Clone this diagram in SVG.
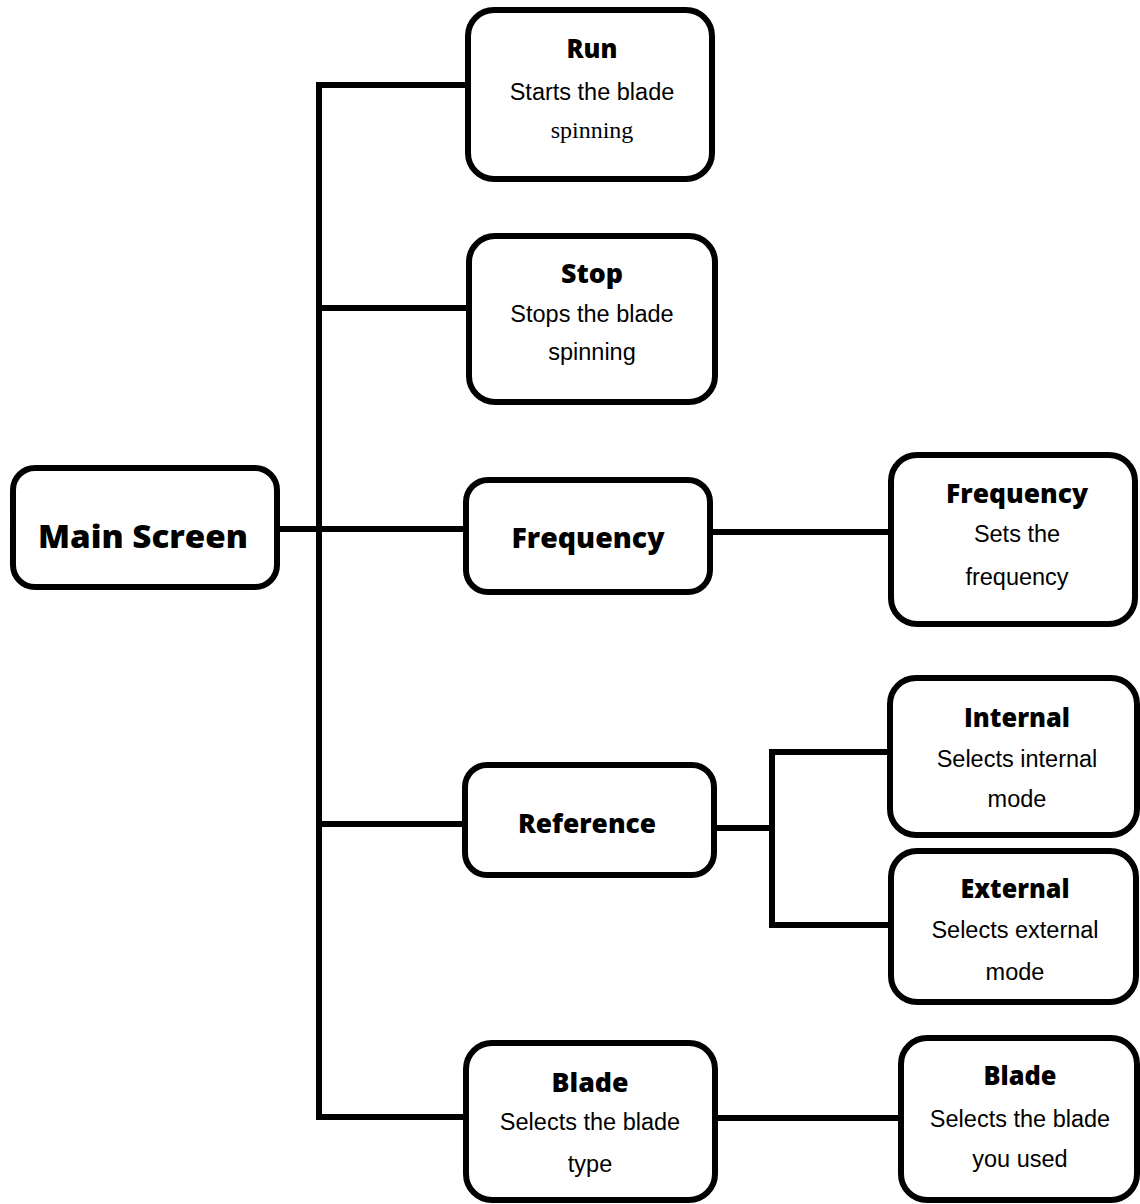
<svg xmlns="http://www.w3.org/2000/svg" width="1140" height="1204" viewBox="0 0 1140 1204">
<style>
.box{fill:#fff;stroke:#000;stroke-width:6}
.ln{fill:none;stroke:#000;stroke-width:6;stroke-linejoin:miter}
.t{font-family:"Open Sans","Noto Sans","DejaVu Sans",sans-serif;font-weight:800;text-anchor:middle;fill:#000}
.b{font-family:"Liberation Sans",Arial,sans-serif;font-size:23.5px;text-anchor:middle;fill:#000}
.s{font-family:"Liberation Serif","Times New Roman",serif;font-size:24px;text-anchor:middle;fill:#000}
</style>
<rect width="1140" height="1204" fill="#fff"/>
<g id="connectors">
<path class="ln" d="M468,85 H319 V1117 H468"/>
<path class="ln" d="M319,308 H469"/>
<path class="ln" d="M277,529 H466"/>
<path class="ln" d="M319,824 H465"/>
<path class="ln" d="M710,532 H891"/>
<path class="ln" d="M714,828 H772"/>
<path class="ln" d="M890,752 H772 V925 H891"/>
<path class="ln" d="M715,1118 H901"/>
</g>
<g id="main">
<rect class="box" x="13" y="468" width="264" height="119" rx="22"/>
<text class="t" x="143" y="548" font-size="31" textLength="210" lengthAdjust="spacingAndGlyphs">Main Screen</text>
</g>
<g id="run">
<rect class="box" x="468" y="10" width="244" height="169" rx="26"/>
<text class="t" x="592" y="58" font-size="26" textLength="51" lengthAdjust="spacingAndGlyphs">Run</text>
<text class="b" x="592" y="100">Starts the blade</text>
<text class="s" x="592" y="138">spinning</text>
</g>
<g id="stop">
<rect class="box" x="469" y="236" width="246" height="166" rx="26"/>
<text class="t" x="592" y="283" font-size="26" textLength="62" lengthAdjust="spacingAndGlyphs">Stop</text>
<text class="b" x="592" y="322">Stops the blade</text>
<text class="b" x="592" y="360">spinning</text>
</g>
<g id="frequency">
<rect class="box" x="466" y="480" width="244" height="112" rx="22"/>
<text class="t" x="588" y="548" font-size="28" textLength="153" lengthAdjust="spacingAndGlyphs">Frequency</text>
</g>
<g id="frequency-detail">
<rect class="box" x="891" y="455" width="244" height="169" rx="26"/>
<text class="t" x="1017" y="503" font-size="26" textLength="142" lengthAdjust="spacingAndGlyphs">Frequency</text>
<text class="b" x="1017" y="542">Sets the</text>
<text class="b" x="1017" y="585">frequency</text>
</g>
<g id="reference">
<rect class="box" x="465" y="765" width="249" height="110" rx="22"/>
<text class="t" x="587" y="833" font-size="27" textLength="138" lengthAdjust="spacingAndGlyphs">Reference</text>
</g>
<g id="internal">
<rect class="box" x="890" y="678" width="247" height="157" rx="26"/>
<text class="t" x="1017" y="727" font-size="26" textLength="106" lengthAdjust="spacingAndGlyphs">Internal</text>
<text class="b" x="1017" y="767">Selects internal</text>
<text class="b" x="1017" y="807">mode</text>
</g>
<g id="external">
<rect class="box" x="891" y="851" width="245" height="151" rx="26"/>
<text class="t" x="1015" y="898" font-size="26" textLength="109" lengthAdjust="spacingAndGlyphs">External</text>
<text class="b" x="1015" y="938">Selects external</text>
<text class="b" x="1015" y="980">mode</text>
</g>
<g id="blade">
<rect class="box" x="466" y="1043" width="249" height="157" rx="26"/>
<text class="t" x="590" y="1092" font-size="26" textLength="77" lengthAdjust="spacingAndGlyphs">Blade</text>
<text class="b" x="590" y="1130">Selects the blade</text>
<text class="b" x="590" y="1172">type</text>
</g>
<g id="blade-detail">
<rect class="box" x="901" y="1038" width="236" height="162" rx="26"/>
<text class="t" x="1020" y="1085" font-size="26" textLength="73" lengthAdjust="spacingAndGlyphs">Blade</text>
<text class="b" x="1020" y="1127">Selects the blade</text>
<text class="b" x="1020" y="1167">you used</text>
</g>
</svg>
